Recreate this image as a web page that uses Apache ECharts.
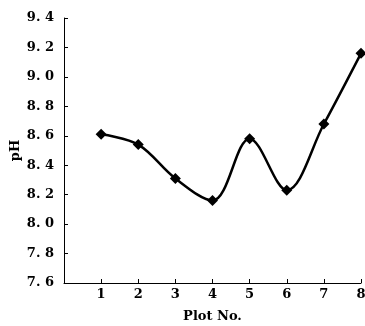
<!DOCTYPE html>
<html><head><meta charset="utf-8">
<script src="https://cdn.jsdelivr.net/npm/echarts@6/dist/echarts.min.js"></script>
<style>html,body{margin:0;padding:0;background:#fff}#c{width:365px;height:326px}</style>
</head><body><div id="c"></div>
<script>
var plots = [1, 2, 3, 4, 5, 6, 7, 8];
var phValues = [8.61, 8.54, 8.31, 8.16, 8.58, 8.23, 8.68, 9.16];
var xTitle = 'Plot No.';
var yTitle = 'pH';

var font = '"DejaVu Serif", "Liberation Serif", serif';
var chart = echarts.init(document.getElementById('c'));
chart.setOption({
  animation: false,
  grid: {left: 64, right: 4, top: 18, bottom: 43, containLabel: false, outerBoundsMode: 'none'},
  xAxis: {
    type: 'value', min: 0, max: 8, interval: 1,
    name: xTitle, nameLocation: 'middle', nameGap: 27, nameMoveOverlap: false,
    nameTextStyle: {fontFamily: font, fontWeight: 'bold', fontSize: 13, color: '#000'},
    axisLine: {lineStyle: {color: '#000', width: 1}},
    axisTick: {inside: true, length: 4, lineStyle: {color: '#000'}},
    axisLabel: {fontFamily: font, fontWeight: 'bold', fontSize: 13, color: '#000', margin: 5,
      formatter: function (v) { return v === 0 ? '' : String(v); }},
    splitLine: {show: false}
  },
  yAxis: {
    type: 'value', min: 7.6, max: 9.4, interval: 0.2,
    name: yTitle, nameLocation: 'middle', nameGap: 42, nameRotate: 90, nameMoveOverlap: false,
    nameTextStyle: {fontFamily: font, fontWeight: 'bold', fontSize: 13, color: '#000'},
    axisLine: {show: true, lineStyle: {color: '#000', width: 1}},
    axisTick: {show: true, inside: true, length: 4, lineStyle: {color: '#000'}},
    axisLabel: {fontFamily: font, fontWeight: 'bold', fontSize: 13, color: '#000', margin: 10,
      formatter: function (v) { return v.toFixed(1).replace('.', '. '); }},
    splitLine: {show: false}
  },
  series: [{
    type: 'line', smooth: 0.35,
    data: plots.map(function (p, i) { return [p, phValues[i]]; }),
    symbol: 'diamond', symbolSize: 11,
    itemStyle: {color: '#000'},
    lineStyle: {color: '#000', width: 2.5},
    clip: false
  }]
});
</script></body></html>
